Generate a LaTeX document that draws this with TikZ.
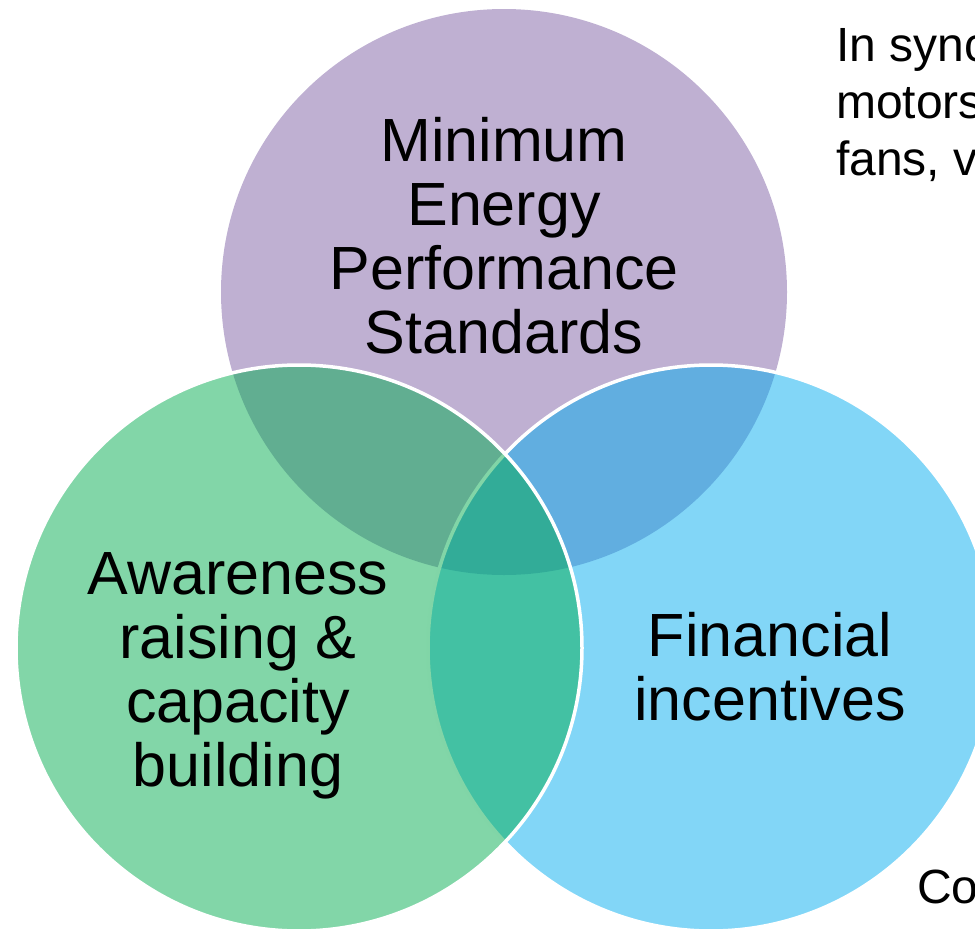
\documentclass[tikz,border=0pt]{standalone}
\usepackage{fontspec}
\setmainfont{Liberation Sans}

% base colours; each disc is laid down at half opacity
\definecolor{mepsPurple}{RGB}{127,97,165}
\definecolor{finBlue}{RGB}{5,173,239}
\definecolor{awGreen}{RGB}{5,173,81}

\begin{document}
\begin{tikzpicture}[x=1pt, y=-1pt,
  disc/.style={fill opacity=0.5},
  rimdisc/.style={fill opacity=0.5, draw=white, draw opacity=1, line width=3.5pt},
  biglabel/.style={align=center, inner sep=0pt, anchor=north, text=black,
                   font=\fontsize{61}{64}\selectfont},
  sidetext/.style={align=left, inner sep=0pt, anchor=north west, text=black,
                   font=\fontsize{48}{57}\selectfont}]
\useasboundingbox (0,0) rectangle (975,929);

% the three policy areas
\fill[mepsPurple, disc] (504,292) circle (283pt);
\filldraw[fill=finBlue, rimdisc] (711,648) circle (283pt);
\filldraw[fill=awGreen, rimdisc] (299,648) circle (283pt);

% labels
\node[biglabel] (meps) at (504,117) {Minimum\\Energy\\Performance\\Standards};
\node[biglabel] (aware) at (238,552) {Awareness\\raising \&\\capacity\\building};
\node[biglabel] (fin) at (770,612) {Financial\\incentives};

% side notes running off the edge
\node[sidetext] (note) at (836,28) {In sync\\motors\\fans, v};
\node[sidetext] (corner) at (917,870) {Co};
\end{tikzpicture}
\end{document}
